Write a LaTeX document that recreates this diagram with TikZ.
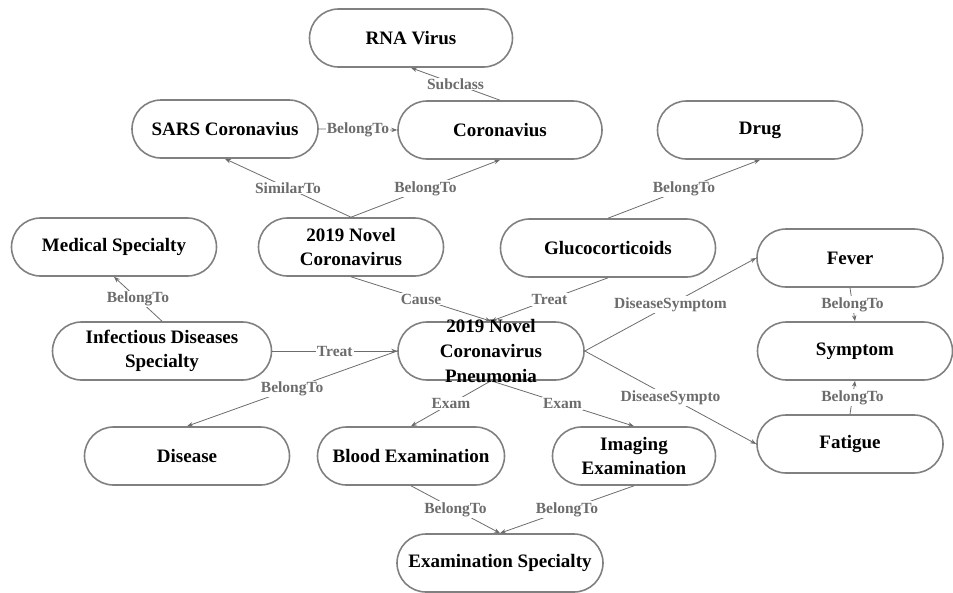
\documentclass[tikz,border=0pt]{standalone}
\usepackage{fontspec}
\setmainfont{Liberation Serif}
\usepackage{tikz}
\usetikzlibrary{arrows.meta}
\usepackage{xcolor}
\definecolor{boxgray}{RGB}{128,128,128}
\definecolor{relgray}{RGB}{108,108,108}

\begin{document}
\begin{tikzpicture}[x=1pt, y=-1pt,
    concept/.style={draw=boxgray, line width=1.6pt, rounded corners=29pt,
        minimum height=58pt, inner sep=0pt, align=center,
        font=\bfseries\fontsize{19}{24}\selectfont},
    relation/.style={draw=relgray, line width=0.8pt,
        -{Stealth[length=6pt,width=4.5pt]}},
    rellabel/.style={fill=white, inner sep=1pt, text=relgray,
        font=\bfseries\fontsize{15.5}{15.5}\selectfont}]
    \useasboundingbox (0,0) rectangle (953,592);

    % Draw concepts
    \node[concept, minimum width=203pt] (rna) at (411,38) {RNA Virus};
    \node[concept, minimum width=186pt] (sars) at (225,129) {SARS Coronavius};
    \node[concept, minimum width=204pt] (coro) at (500,130) {Coronavius};
    \node[concept, minimum width=205pt] (drug) at (760,130) {Drug};
    \node[concept, minimum width=205pt] (med) at (114,247) {Medical Specialty};
    \node[concept, minimum width=185pt] (ncov) at (351,247) {2019 Novel\\Coronavirus};
    \node[concept, minimum width=215pt] (gluco) at (608,248) {Glucocorticoids};
    \node[concept, minimum width=186pt] (fever) at (850,258) {Fever};
    \node[concept, minimum width=219pt] (infect) at (162,351) {Infectious Diseases\\Specialty};
    \node[concept, minimum width=186pt] (pneu) at (491,351) {};
    \node[concept, minimum width=195pt] (symptom) at (855,351) {Symptom};
    \node[concept, minimum width=186pt] (fatigue) at (850,444) {Fatigue};
    \node[concept, minimum width=205pt] (disease) at (187,456) {Disease};
    \node[concept, minimum width=187pt] (blood) at (411,456) {Blood Examination};
    \node[concept, minimum width=163pt] (imaging) at (634,456) {Imaging\\Examination};
    \node[concept, minimum width=206pt] (examspec) at (500,563) {Examination Specialty};

    % Draw relations
    \foreach \from/\to/\rel in {
        coro.north/rna.south/Subclass,
        sars.east/coro.west/BelongTo,
        ncov.north/sars.south/SimilarTo,
        ncov.north/coro.south/BelongTo,
        gluco.north/drug.south/BelongTo,
        infect.north/med.south/BelongTo,
        ncov.south/pneu.north/Cause,
        gluco.south/pneu.north/Treat,
        infect.east/pneu.west/Treat,
        pneu.east/fever.west/DiseaseSymptom,
        pneu.east/fatigue.west/DiseaseSympto,
        fever.south/symptom.north/BelongTo,
        fatigue.north/symptom.south/BelongTo,
        pneu.west/disease.north/BelongTo,
        pneu.south/blood.north/Exam,
        pneu.south/imaging.north/Exam,
        blood.south/examspec.north/BelongTo,
        imaging.south/examspec.north/BelongTo} {
        \draw[relation] (\from) -- node[rellabel] {\rel} (\to);
    }

    % Text of the pneumonia concept runs over its box
    \node[align=center, inner sep=0pt, font=\bfseries\fontsize{19}{25}\selectfont]
        (pneutext) at (pneu.center) {2019 Novel\\Coronavirus\\Pneumonia};
\end{tikzpicture}
\end{document}
